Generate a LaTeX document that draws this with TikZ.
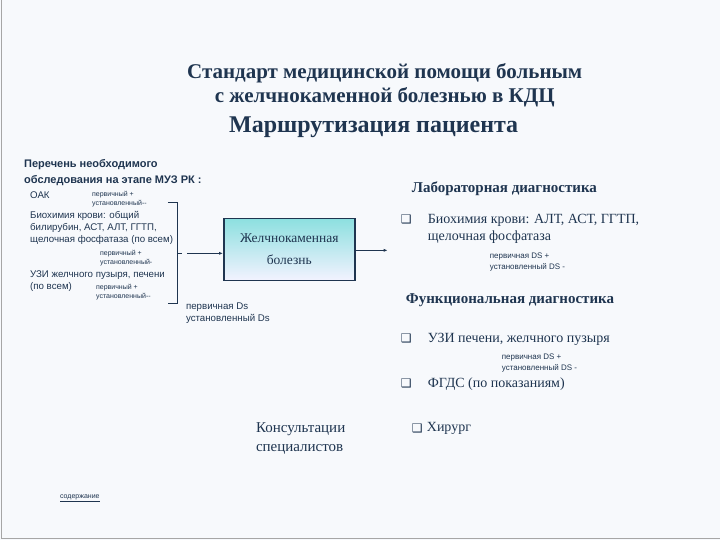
\documentclass[tikz,border=0pt]{standalone}
\usepackage{fontspec}
\setmainfont{Liberation Serif}
\newfontfamily\dv{DejaVu Sans}
\newfontfamily\sm{Liberation Sans}
\usetikzlibrary{arrows.meta}
\definecolor{ink}{HTML}{1F3550}
\definecolor{bg}{HTML}{F7F9FC}
\tikzset{
  t/.style={text=ink,inner sep=0pt,anchor=west,align=left},
  tiny/.style={t,font=\sm\fontsize{7}{9}\selectfont},
  small/.style={t,font=\sm\fontsize{9.7}{12}\selectfont},
  body/.style={t,font=\fontsize{14}{17}\selectfont},
  head/.style={t,font=\bfseries\fontsize{15}{18}\selectfont},
  conn/.style={ink,line width=1.4pt}
}
\newcommand{\cb}{{\dv\fontsize{12}{12}\selectfont ❑}}
\begin{document}
\begin{tikzpicture}[x=1pt,y=-1pt]
\fill[bg] (0,0) rectangle (720,540);
\draw[gray!70,line width=1pt] (1.5,0) -- (1.5,538.5) -- (720,538.5);
\useasboundingbox (0,0) rectangle (720,540);
% title
\node[text=ink,font=\bfseries\fontsize{21}{24}\selectfont,align=center] (t1) at (385,85) {Стандарт медицинской помощи больным\\с желчнокаменной болезнью в КДЦ};
\node[text=ink,font=\bfseries\fontsize{24}{28}\selectfont] (t2) at (374,127) {Маршрутизация пациента};
% left list
\node[t,font=\sm\bfseries\fontsize{11}{16}\selectfont] (l0) at (24,172) {Перечень необходимого\\ обследования на этапе МУЗ РК :};
\node[small] (l1) at (30,195) {ОАК};
\node[tiny] (p1) at (92,199) {первичный +\\установленный--};
\node[small] (l2) at (30,228) {Биохимия крови: общий\\билирубин, АСТ, АЛТ, ГГТП,\\щелочная фосфатаза (по всем)};
\node[tiny] (p2) at (100,258) {первичный +\\установленный-};
\node[small] (l3) at (30,281) {УЗИ желчного пузыря, печени\\(по всем)};
\node[tiny] (p3) at (96,292) {первичный +\\установленный--};
\coordinate (b1) at (168,202);
\coordinate (b2) at (178,202);
\coordinate (b3) at (178,303);
\coordinate (b4) at (168,303);
\draw[ink,line width=0.8pt] (b1) -- (b2) -- (b3) -- (b4);
\coordinate (bm) at (178,253);
\node[draw=ink,line width=1.5pt,minimum width=131pt,minimum height=62pt,top color=cyan!45!teal!45,bottom color=blue!5,text=ink,font=\fontsize{13.5}{22}\selectfont,align=center] (box) at (289.5,249) {Желчнокаменная\\болезнь};
\draw[conn,dash pattern=on 4pt off 5pt on 28pt off 0pt,-{Latex[length=4pt]}] (bm) -- (box.west |- bm);
\coordinate (ae) at (388,250);
\draw[conn,-{Latex[length=4pt]}] (box.east |- ae) -- (ae);
\node[small] (ds) at (186,313) {первичная Ds\\установленный Ds};
% right side
\node[head] (h1) at (412,188) {Лабораторная диагностика};
\node[t] (c1) at (401,219) {\cb};
\node[body] (r1) at (428,229) {Биохимия крови: АЛТ, АСТ, ГГТП,\\щелочная фосфатаза};
\node[tiny,font=\sm\fontsize{8}{11}\selectfont] (q1) at (490,262) {первичная DS +\\установленный DS -};
\node[head] (h2) at (406,300) {Функциональная диагностика};
\node[t] (c2) at (401,338) {\cb};
\node[body] (r2) at (428,339) {УЗИ печени, желчного пузыря};
\node[tiny,font=\sm\fontsize{8}{11}\selectfont] (q2) at (502,363) {первичная DS +\\установленный DS -};
\node[t] (c3) at (401,383) {\cb};
\node[body] (r3) at (428,384) {ФГДС (по показаниям)};
\node[t] (c4) at (412,428) {\cb};
\node[body] (r4) at (427,428) {Хирург};
\node[body,font=\fontsize{15}{19}\selectfont] (k) at (256,438) {Консультации\\специалистов};
\node[t,font=\sm\fontsize{7}{8}\selectfont] (sd) at (60,498) {\underline{содержание}};
\end{tikzpicture}
\end{document}
